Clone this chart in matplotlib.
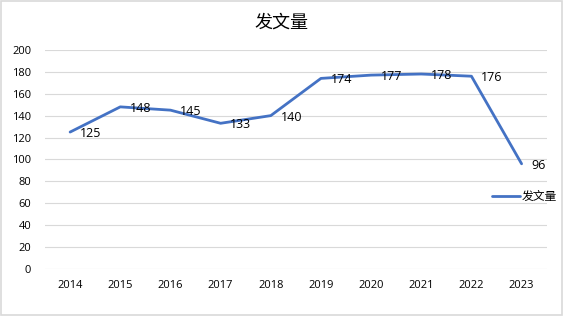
import matplotlib.pyplot as plt
from matplotlib.patches import Rectangle

plt.rcParams['font.family'] = ['Noto Sans CJK SC', 'DejaVu Sans']

years = ['2014', '2015', '2016', '2017', '2018', '2019', '2020', '2021', '2022', '2023']
counts = [125, 148, 145, 133, 140, 174, 177, 178, 176, 96]
series_name = '发文量'

fig = plt.figure(figsize=(5.63, 3.16), dpi=100)
ax = fig.add_axes([0.08, 0.149, 0.891, 0.693])

x = range(len(years))
ax.plot(x, counts, color='#4472C4', linewidth=2.0, label=series_name,
        solid_joinstyle='round', solid_capstyle='round')
for xi, v in zip(x, counts):
    ax.annotate(str(v), (xi, v), xytext=(7, -1), textcoords='offset points',
                ha='left', va='center', fontsize=9, family=['Open Sans', 'DejaVu Sans'])

ax.set_xlim(-0.5, len(years) - 0.5)
ax.set_ylim(0, 200)
ax.set_yticks(range(0, 201, 20))
ax.set_xticks(list(x))
ax.set_xticklabels(years)
ax.grid(axis='y', color='#D9D9D9', linewidth=0.8)
ax.set_axisbelow(True)
for s in ax.spines.values():
    s.set_visible(False)
ax.tick_params(length=0, labelsize=8, colors='#000000', pad=8)
ax.tick_params(axis='y', pad=10)
for lab in ax.get_xticklabels() + ax.get_yticklabels():
    lab.set_family(['Open Sans', 'DejaVu Sans'])

fig.text(0.5, 0.93, series_name, ha='center', va='center', fontsize=13)
ax.legend(loc='center left', bbox_to_anchor=(0.87, 0.33), frameon=False,
          fontsize=8.5, handlelength=2.4, handletextpad=0.1)

fig.patches.append(Rectangle((0.002, 0.004), 0.996, 0.992, transform=fig.transFigure,
                             fill=False, edgecolor='#D9D9D9', linewidth=1.2))
fig.savefig('out.png', dpi=100)
